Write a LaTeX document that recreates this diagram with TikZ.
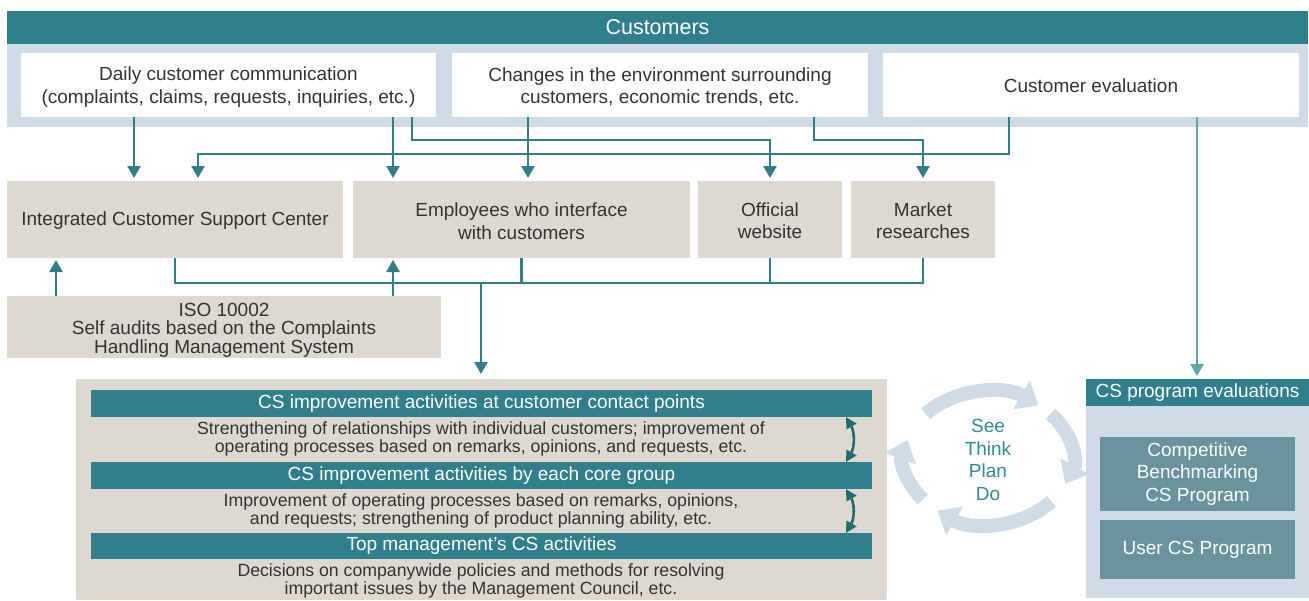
\documentclass[tikz,border=0pt]{standalone}
\usepackage{fontspec}
\setmainfont{Liberation Sans}
\usetikzlibrary{arrows.meta}
\definecolor{cteal}{HTML}{2F808C}
\definecolor{cband}{HTML}{CFDCE8}
\definecolor{cgray}{HTML}{DDD9D1}
\definecolor{cline}{HTML}{2E7F8A}
\definecolor{clight}{HTML}{5BA7AD}
\definecolor{cinner}{HTML}{6A939E}
\definecolor{cdark}{HTML}{1E6E70}
\definecolor{ctext}{HTML}{333333}
\definecolor{ccyc}{HTML}{CFDCE8}
\definecolor{ccyctext}{HTML}{2E8A94}
\begin{document}
\begin{tikzpicture}[x=1pt,y=-1pt,
  every node/.style={inner sep=0pt, outer sep=0pt, align=center, text=ctext, font=\fontsize{19}{22.5}\selectfont},
  wbox/.style={fill=white, minimum width=416pt, minimum height=64pt},
  gbox/.style={fill=cgray, minimum height=77pt},
  bar/.style={fill=cteal, text=white, minimum width=781pt, minimum height=27pt},
  subtext/.style={font=\fontsize{17.7}{18}\selectfont},
  inner/.style={fill=cinner, text=white, minimum width=195pt},
  conn/.style={draw=cline, line width=2.6pt, -{Triangle[width=13pt,length=12pt]}},
  plain/.style={draw=cline, line width=2.6pt},
  cyc/.style={draw=ccyc, line width=14pt, -{Triangle[width=32pt,length=20pt]}},
  dbl/.style={draw=cdark, line width=2.6pt, {Triangle[width=11pt,length=11pt]}-{Triangle[width=11pt,length=11pt]}}
]
\useasboundingbox (0,0) rectangle (1309,600);
% top band
\node[fill=cband, minimum width=1301pt, minimum height=83pt] (band) at (657.5,85.5) {};
\node[fill=cteal, text=white, minimum width=1301pt, minimum height=33pt, font=\fontsize{21.5}{24}\selectfont] (cust) at (657.5,27.5) {Customers};
\node[wbox, minimum width=415pt] (daily) at (228.5,85) {};
\node (dailytext) at (228.5,87) {Daily customer communication\\(complaints, claims, requests, inquiries, etc.)};
\node[wbox] (changes) at (660,85) {};
\node (changestext) at (660,87) {Changes in the environment surrounding\\customers, economic trends, etc.};
\node[wbox] (eval) at (1091,85) {};
\node (evaltext) at (1091,86) {Customer evaluation};
% middle boxes
\node[gbox, minimum width=336pt] (ics) at (175,219.5) {};
\node (icstext) at (175,221) {Integrated Customer Support Center};
\node[gbox, minimum width=337pt] (emp) at (521.5,219.5) {};
\node (emptext) at (521.5,221) {Employees who interface\\with customers};
\node[gbox, minimum width=144pt] (web) at (770,219.5) {};
\node (webtext) at (770,220.5) {Official\\website};
\node[gbox, minimum width=144pt] (market) at (923,219.5) {};
\node (markettext) at (923,220.5) {Market\\researches};
\node[fill=cgray, minimum width=434pt, minimum height=62pt] (iso) at (224,327) {};
\node[font=\fontsize{19}{18.5}\selectfont] (isotext) at (224,330) {ISO 10002\\Self audits based on the Complaints\\Handling Management System};
% big gray block
\node[fill=cgray, minimum width=811pt, minimum height=221pt] (block) at (481.5,489.5) {};
\node[bar] (bar1) at (481.5,403.5) {CS improvement activities at customer contact points};
\node[bar] (bar2) at (481.5,475.5) {CS improvement activities by each core group};
\node[bar, minimum height=26pt] (bar3) at (481.5,546) {Top management’s CS activities};
\node[subtext] (sub1) at (481,439) {Strengthening of relationships with individual customers; improvement of\\operating processes based on remarks, opinions, and requests, etc.};
\node[subtext] (sub2) at (481,510.5) {Improvement of operating processes based on remarks, opinions,\\and requests; strengthening of product planning ability, etc.};
\node[subtext] (sub3) at (481,581) {Decisions on companywide policies and methods for resolving\\important issues by the Management Council, etc.};
% right panel
\node[fill=cband, minimum width=223pt, minimum height=192pt] (rpanel) at (1197.5,502) {};
\node[fill=cteal, text=white, minimum width=223pt, minimum height=27pt] (rhead) at (1197.5,392.5) {CS program evaluations};
\node[inner, minimum height=74pt] (comp) at (1197.5,474) {Competitive\\Benchmarking\\CS Program};
\node[inner, minimum height=59pt] (user) at (1197.5,549.5) {User CS Program};
% cycle (angles in canvas orientation; decreasing = clockwise)
\draw[cyc] (988,458) ++(-222:84pt and 66pt) arc[start angle=-222, end angle=-307, x radius=84pt, y radius=66pt];
\draw[cyc] (988,458) ++(-318:84pt and 66pt) arc[start angle=-318, end angle=-383, x radius=84pt, y radius=66pt];
\draw[cyc] (988,458) ++(-41:84pt and 66pt) arc[start angle=-41, end angle=-127, x radius=84pt, y radius=66pt];
\draw[cyc] (988,458) ++(-141:84pt and 66pt) arc[start angle=-141, end angle=-196, x radius=84pt, y radius=66pt];
\node[text=ccyctext] (cycle) at (988,460) {See\\Think\\Plan\\Do};
% connectors from customers
\draw[conn, shorten >=3pt] (daily.south -| 134,0) -- (ics.north -| 134,0);
\draw[conn, shorten >=3pt] (eval.south -| 1009,0) -- (1009,154) -- (198,154) -- (ics.north -| 198,0);
\draw[conn, shorten >=3pt] (daily.south -| 393,0) -- (emp.north -| 393,0);
\draw[conn, shorten >=3pt] (daily.south -| 412,0) -- (412,140) -| (web.north);
\draw[conn, shorten >=3pt] (changes.south -| 528,0) -- (emp.north -| 528,0);
\draw[conn, shorten >=3pt] (changes.south -| 814,0) -- (814,140) -| (market.north);
\draw[conn, draw=clight, -{Triangle[width=13pt,length=12pt,fill=clight]}, shorten >=3pt] (eval.south -| 1197,0) -- (rhead.north -| 1197,0);
% collector
\coordinate (j) at (481,283);
\draw[plain] (ics.south) -- ++(0,25) -| (market.south);
\draw[plain] (emp.south) -- (emp.south |- j);
\draw[plain] (web.south) -- (web.south |- j);
\draw[conn, shorten >=5pt] (j) -- (block.north -| j);
% ISO up arrows
\draw[conn, shorten >=2pt] (iso.north -| 56,0) -- (ics.south -| 56,0);
\draw[conn, shorten >=2pt] (iso.north -| 393,0) -- (emp.south -| 393,0);
% double arrows
\draw[dbl] (bar1.south -| 846,0) to[bend left=30] (bar2.north -| 846,0);
\draw[dbl] (bar2.south -| 846,0) to[bend left=30] (bar3.north -| 846,0);
\end{tikzpicture}
\end{document}
